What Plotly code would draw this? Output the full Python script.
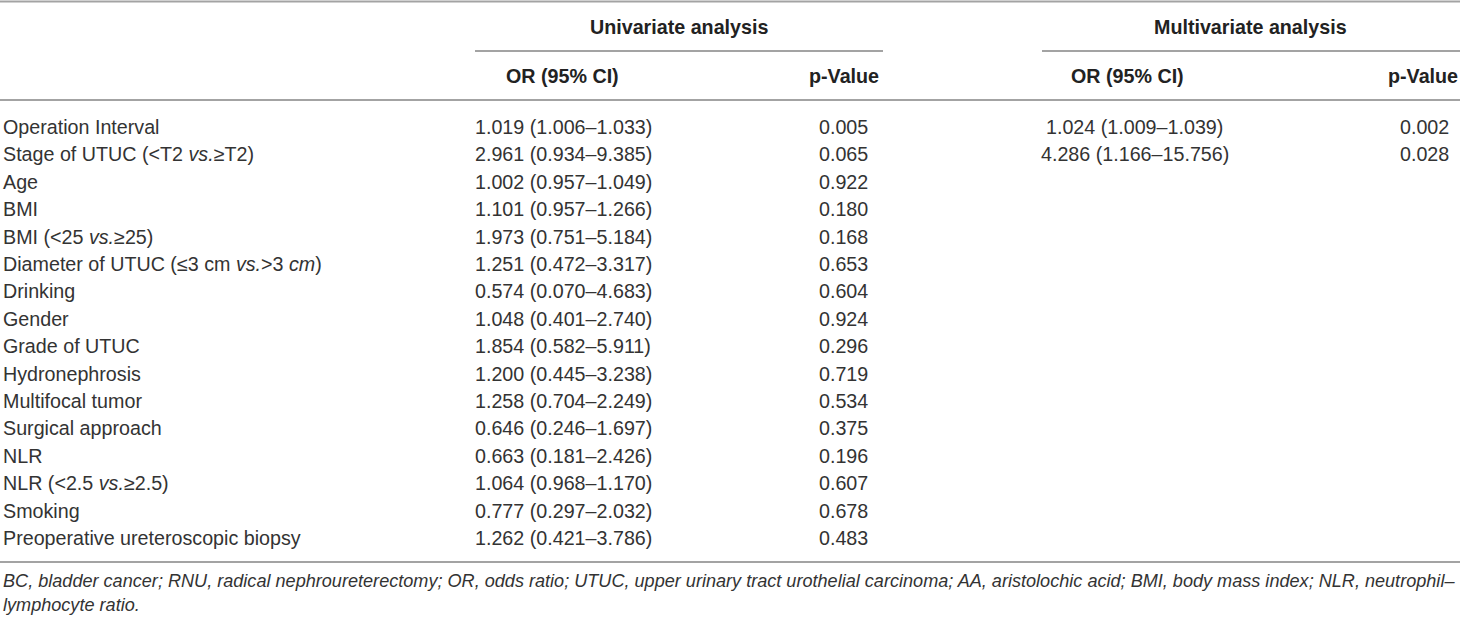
import plotly.graph_objects as go

# Table content
variables = [
    "Operation Interval",
    "Stage of UTUC (<T2 <i>vs.</i>≥T2)",
    "Age",
    "BMI",
    "BMI (<25 <i>vs.</i>≥25)",
    "Diameter of UTUC (≤3 cm <i>vs.</i>>3 <i>cm</i>)",
    "Drinking",
    "Gender",
    "Grade of UTUC",
    "Hydronephrosis",
    "Multifocal tumor",
    "Surgical approach",
    "NLR",
    "NLR (<2.5 <i>vs.</i>≥2.5)",
    "Smoking",
    "Preoperative ureteroscopic biopsy",
]
uni_or = [
    "1.019 (1.006–1.033)", "2.961 (0.934–9.385)", "1.002 (0.957–1.049)",
    "1.101 (0.957–1.266)", "1.973 (0.751–5.184)", "1.251 (0.472–3.317)",
    "0.574 (0.070–4.683)", "1.048 (0.401–2.740)", "1.854 (0.582–5.911)",
    "1.200 (0.445–3.238)", "1.258 (0.704–2.249)", "0.646 (0.246–1.697)",
    "0.663 (0.181–2.426)", "1.064 (0.968–1.170)", "0.777 (0.297–2.032)",
    "1.262 (0.421–3.786)",
]
uni_p = ["0.005", "0.065", "0.922", "0.180", "0.168", "0.653", "0.604", "0.924",
         "0.296", "0.719", "0.534", "0.375", "0.196", "0.607", "0.678", "0.483"]
multi_or = ["1.024 (1.009–1.039)", "4.286 (1.166–15.756)"]
multi_p = ["0.002", "0.028"]

group_headers = ["Univariate analysis", "Multivariate analysis"]
col_headers = ["OR (95% CI)", "p-Value", "OR (95% CI)", "p-Value"]

footnote = [
    "BC, bladder cancer; RNU, radical nephroureterectomy; OR, odds ratio; UTUC, upper urinary tract "
    "urothelial carcinoma; AA, aristolochic acid; BMI, body mass index; NLR, neutrophil–",
    "lymphocyte ratio.",
]

# layout (pixel units on hidden axes)
W, H = 1460, 618
row0, row_step = 127, 27.4
uni_or_x, uni_p_x = 563, 843.5
multi_or_x, multi_p_x = 1134.5, 1424
header_x = [562.5, 843.5, 1127.5, 1423]
group_x = [679, 1250]
text_font = dict(family="Liberation Sans, Arial, sans-serif", size=19.7, color="#333333")
head_font = dict(family="Liberation Sans, Arial, sans-serif", size=19.7, color="#222222")
foot_font = dict(family="Liberation Sans, Arial, sans-serif", size=18.1, color="#333333")
rule = dict(color="#a3a3a3", width=2)

fig = go.Figure()
fig.add_trace(go.Scatter(x=[0, W], y=[0, H], mode="markers", marker=dict(opacity=0),
                         hoverinfo="skip", showlegend=False))

ann = []


def cell(x, y, text, anchor="center", font=text_font):
    ann.append(dict(x=x, y=y, xref="x", yref="y", text=text, showarrow=False,
                    xanchor=anchor, yanchor="middle", font=font))


for gx, g in zip(group_x, group_headers):
    cell(gx, 27, "<b>" + g + "</b>", font=head_font)
for hx, h in zip(header_x, col_headers):
    cell(hx, 76, "<b>" + h + "</b>", font=head_font)

for i, v in enumerate(variables):
    y = row0 + i * row_step
    cell(0.5, y, v, anchor="left")
    cell(uni_or_x, y, uni_or[i])
    cell(uni_p_x, y, uni_p[i])
    if i < len(multi_or):
        cell(multi_or_x, y, multi_or[i])
        cell(multi_p_x, y, multi_p[i])

for j, line in enumerate(footnote):
    cell(0.5, 581 + j * 23.5, "<i>" + line + "</i>", anchor="left", font=foot_font)

shapes = [
    dict(type="line", x0=0, x1=W, y0=1.5, y1=1.5, line=rule),
    dict(type="line", x0=475, x1=883, y0=51, y1=51, line=rule),
    dict(type="line", x0=1042, x1=W, y0=51, y1=51, line=rule),
    dict(type="line", x0=0, x1=W, y0=100, y1=100, line=rule),
    dict(type="line", x0=0, x1=W, y0=562, y1=562, line=rule),
]
for s in shapes:
    s.update(xref="x", yref="y")

fig.update_layout(
    width=W, height=H,
    margin=dict(l=0, r=0, t=0, b=0),
    paper_bgcolor="white", plot_bgcolor="white",
    xaxis=dict(range=[0, W], visible=False, fixedrange=True),
    yaxis=dict(range=[H, 0], visible=False, fixedrange=True),
    annotations=ann, shapes=shapes,
)

# drop the page's default body margin so the figure sits at the window's corner
fig.write_html("out.html", config={"displayModeBar": False},
               post_script="document.body.style.margin='0';")
